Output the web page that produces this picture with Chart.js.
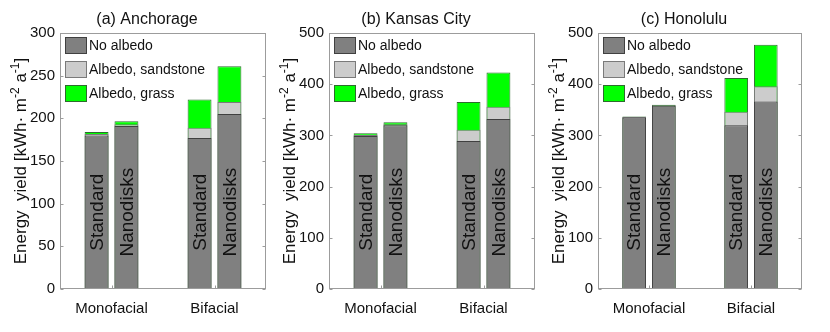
<!DOCTYPE html>
<html>
<head>
<meta charset="utf-8">
<title>Energy yield</title>
<script src="https://cdn.jsdelivr.net/npm/chart.js@4.4.1/dist/chart.umd.min.js"></script>
<style>
  html, body { margin: 0; padding: 0; background: #fff; }
  #wrap { position: relative; width: 830px; height: 332px; overflow: hidden; }
  #wrap canvas { position: absolute; top: 0; }
</style>
</head>
<body>
<div id="wrap">
  <canvas id="chartA" width="270" height="332" style="left:0"></canvas>
  <canvas id="chartB" width="275" height="332" style="left:270px"></canvas>
  <canvas id="chartC" width="285" height="332" style="left:545px"></canvas>
</div>
<script>
// ========================================
// DATA
// ========================================
const FONT = '"Liberation Sans", Arial, Helvetica, sans-serif';

const categories = ['Monofacial', 'Bifacial'];
const variants = ['Standard', 'Nanodisks'];
const seriesNames = ['No albedo', 'Albedo, sandstone', 'Albedo, grass'];
const seriesFill = ['#808080', '#cccccc', '#00ff00'];
const seriesEdge = ['#404040', '#7a7a7a', '#2e6b2e'];

// totals in kWh m^-2 a^-1
// order: Mono-Standard, Mono-Nanodisks, Bi-Standard, Bi-Nanodisks
const anchorageNoAlbedo = [180, 191, 177, 205];
const anchorageSandstone = [181.5, 193, 189, 219];
const anchorageGrass = [184, 196.5, 222, 261];

const kansasNoAlbedo = [299, 320, 289, 332];
const kansasSandstone = [301, 322, 311, 356];
const kansasGrass = [304, 325.5, 365, 423];

const honoluluNoAlbedo = [335, 358, 320, 366];
const honoluluSandstone = [336, 359, 346, 396];
const honoluluGrass = [337, 360, 412, 477];

const panelTitles = ['(a) Anchorage', '(b) Kansas City', '(c) Honolulu'];
const yMaxes = [300, 500, 500];
const ySteps = [50, 100, 100];

// ========================================
// PLUGINS
// ========================================
const framePlugin = {
  id: 'frame',
  afterDatasetsDraw(chart) {
    const { ctx, chartArea: a, scales } = chart;
    const L = Math.round(a.left) + 0.5, R = Math.round(a.right) - 0.5;
    const T = Math.round(a.top) + 0.5, B = Math.round(a.bottom) - 0.5;
    ctx.save();
    ctx.strokeStyle = '#9c9c9c';
    ctx.lineWidth = 1;
    ctx.strokeRect(L, T, R - L, B - T);
    ctx.beginPath();
    scales.y.ticks.forEach((t, i) => {
      const y = Math.round(scales.y.getPixelForTick(i)) + 0.5;
      ctx.moveTo(L, y); ctx.lineTo(L + 3, y);
      ctx.moveTo(R, y); ctx.lineTo(R - 3, y);
    });
    categories.forEach((c, i) => {
      const x = Math.round(scales.x.getPixelForTick(i)) + 0.5;
      ctx.moveTo(x, B); ctx.lineTo(x, B - 3);
    });
    ctx.stroke();
    ctx.restore();
  }
};

const barTextPlugin = {
  id: 'barText',
  afterDatasetsDraw(chart) {
    const { ctx, chartArea: a } = chart;
    const yc = a.top + 0.7 * (a.bottom - a.top);
    ctx.save();
    ctx.fillStyle = '#111';
    ctx.font = '19px ' + FONT;
    ctx.textAlign = 'center';
    ctx.textBaseline = 'middle';
    chart.data.datasets.forEach((ds, i) => {
      if (ds.order !== 0) return;
      chart.getDatasetMeta(i).data.forEach(el => {
        ctx.save();
        ctx.translate(el.x, yc);
        ctx.rotate(-Math.PI / 2);
        ctx.fillText(ds.variant, 0, 1);
        ctx.restore();
      });
    });
    ctx.restore();
  }
};

const legendPlugin = {
  id: 'boxLegend',
  afterDatasetsDraw(chart) {
    const { ctx, chartArea: a } = chart;
    ctx.save();
    ctx.font = '14px ' + FONT;
    ctx.textBaseline = 'middle';
    seriesNames.forEach((name, i) => {
      const x = Math.round(a.left) + 5;
      const y = Math.round(a.top) + 4 + i * 24;
      ctx.fillStyle = seriesFill[i];
      ctx.fillRect(x, y, 22, 17);
      ctx.strokeStyle = seriesEdge[i];
      ctx.lineWidth = 1;
      ctx.strokeRect(x + 0.5, y + 0.5, 21, 16);
      ctx.fillStyle = '#111';
      ctx.fillText(name, x + 24, y + 9);
    });
    ctx.restore();
  }
};

const labelsPlugin = {
  id: 'panelLabels',
  afterDraw(chart) {
    const { ctx, chartArea: a } = chart;
    const title = chart.options.plugins.panelLabels.title;
    ctx.save();
    ctx.fillStyle = '#111';
    ctx.textBaseline = 'middle';
    ctx.textAlign = 'center';
    ctx.font = '16px ' + FONT;
    ctx.fillText(title, (a.left + a.right) / 2 - 16, 20);

    // y axis label with superscripts
    const pieces = [
      ['Energy  yield [kWh\u00b7 m', false],
      ['-2', true],
      [' a', false],
      ['-1', true],
      [']', false]
    ];
    const fontFor = sup => (sup ? '12px ' : '17px ') + FONT;
    let total = 0;
    pieces.forEach(p => { ctx.font = fontFor(p[1]); total += ctx.measureText(p[0]).width; });
    ctx.translate(a.left - 40, (a.top + a.bottom) / 2);
    ctx.rotate(-Math.PI / 2);
    ctx.textAlign = 'left';
    ctx.textBaseline = 'alphabetic';
    let x = -total / 2;
    pieces.forEach(p => {
      ctx.font = fontFor(p[1]);
      ctx.fillText(p[0], x, p[1] ? -1 : 6);
      x += ctx.measureText(p[0]).width;
    });
    ctx.restore();
  }
};

// ========================================
// CHARTS
// ========================================
function buildDatasets(series) {
  const datasets = [];
  series.forEach((vals, s) => {
    variants.forEach((v, k) => {
      datasets.push({
        label: seriesNames[s],
        variant: v,
        stack: v,
        data: [vals[k], vals[k + 2]],
        backgroundColor: seriesFill[s],
        borderColor: seriesEdge[s],
        borderWidth: 1,
        borderSkipped: 'bottom',
        order: s,
        categoryPercentage: 0.58,
        barPercentage: 0.8
      });
    });
  });
  return datasets;
}

function makePanel(id, title, series, yMax, yStep, plotLeft, padRight) {
  return new Chart(document.getElementById(id), {
    type: 'bar',
    data: { labels: categories, datasets: buildDatasets(series) },
    options: {
      responsive: false,
      animation: false,
      devicePixelRatio: 1,
      layout: { padding: { top: 33, right: padRight, bottom: 0, left: 0 } },
      plugins: {
        legend: { display: false },
        tooltip: { enabled: false },
        panelLabels: { title: title }
      },
      scales: {
        x: {
          stacked: true,
          afterFit(scale) { scale.height = 43; },
          grid: { display: false, drawTicks: false },
          border: { display: false },
          ticks: { color: '#111', padding: 11, font: { size: 15, family: FONT } }
        },
        y: {
          stacked: false,
          min: 0,
          max: yMax,
          afterFit(scale) { scale.width = plotLeft; },
          grid: { display: false, drawTicks: false },
          border: { display: false },
          ticks: { stepSize: yStep, color: '#111', padding: 5, font: { size: 15, family: FONT } }
        }
      }
    },
    plugins: [framePlugin, barTextPlugin, legendPlugin, labelsPlugin]
  });
}

makePanel('chartA', panelTitles[0], [anchorageNoAlbedo, anchorageSandstone, anchorageGrass], yMaxes[0], ySteps[0], 60, 4);
makePanel('chartB', panelTitles[1], [kansasNoAlbedo, kansasSandstone, kansasGrass], yMaxes[1], ySteps[1], 59, 10);
makePanel('chartC', panelTitles[2], [honoluluNoAlbedo, honoluluSandstone, honoluluGrass], yMaxes[2], ySteps[2], 53, 28);
</script>
</body>
</html>
